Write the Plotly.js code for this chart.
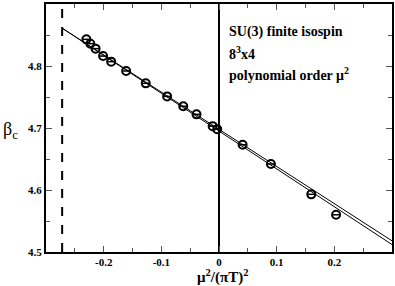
<!DOCTYPE html>
<html><head><meta charset="utf-8">
<script src="https://cdn.plot.ly/plotly-3.0.1.min.js"></script>
<style>html,body{margin:0;padding:0;background:#fff}#chart{width:395px;height:286px}</style>
</head><body><div id="chart"></div>
<script>
// data
const muX = [-0.230,-0.223,-0.214,-0.201,-0.187,-0.161,-0.127,-0.090,-0.062,-0.039,-0.011,-0.003,0.041,0.090,0.160,0.203];
const betaC = [4.843,4.836,4.828,4.816,4.807,4.792,4.772,4.751,4.735,4.722,4.703,4.698,4.673,4.642,4.593,4.560];
const fitX = [-0.272, 0.30];
const fitA = [4.861, 4.518];
const fitB = [4.861, 4.512];
const dashX = [-0.272, -0.272];
const dashY = [4.5, 4.9];
const xTicks = [-0.2,-0.1,0,0.1,0.2];
const yTicks = [4.5,4.6,4.7,4.8,4.9];
const labels = ["SU(3) finite isospin", "8<sup>3</sup>x4", "polynomial order \u03bc<sup>2</sup>"];
const xTitle = "\u03bc<sup>2</sup>/(\u03c0T)<sup>2</sup>";
const yTitle = "\u03b2<sub>c</sub>";

const serif = "Liberation Serif, Times New Roman, serif";
const traces = [
  {x: fitX, y: fitA, mode:'lines', line:{color:'#000', width:1}, hoverinfo:'skip'},
  {x: fitX, y: fitB, mode:'lines', line:{color:'#000', width:1}, hoverinfo:'skip'},
  {x: dashX, y: dashY, xaxis:'x2', yaxis:'y2', mode:'lines', line:{color:'#000', width:2, dash:'dash'}, hoverinfo:'skip'},
  {x: muX, y: betaC, mode:'markers', marker:{symbol:'circle-open', size:8, color:'#000', line:{width:2, color:'#000'}}},
  {x: muX, y: betaC, mode:'markers', marker:{symbol:'line-ew-open', size:6, color:'#000', line:{width:1.5, color:'#000'}}}
];
const axisCommon = {
  showgrid:false, showline:true, linecolor:'#000', linewidth:2, mirror:true,
  ticks:'inside', ticklen:6, tickwidth:1, tickcolor:'#555',
  minor:{ticks:'inside', ticklen:4, tickwidth:1, tickcolor:'#555'},
  tickfont:{family:serif, size:11, color:'#000'}
};
const b = s => '<b>' + s + '</b>';
const layout = {
  width:395, height:286,
  margin:{l:46, r:3, t:4, b:34, pad:0},
  paper_bgcolor:'#fff', plot_bgcolor:'#fff',
  showlegend:false,
  xaxis: Object.assign({}, axisCommon, {
    range:[-0.3,0.3], tickvals:xTicks, ticktext:xTicks.map(v=>b(v===0?'0':v.toFixed(1))),
    minor:Object.assign({}, axisCommon.minor, {dtick:0.05, tick0:0}),
    zeroline:true, zerolinecolor:'#000', zerolinewidth:2, ticklabelstandoff:-1
  }),
  yaxis: Object.assign({}, axisCommon, {
    range:[4.5,4.9], tickvals:yTicks, ticktext:yTicks.map(v=>b(v.toFixed(1))),
    minor:Object.assign({}, axisCommon.minor, {dtick:0.05, tick0:4.5}),
    zeroline:false
  }),
  xaxis2: Object.assign({}, axisCommon, {
    overlaying:'x', side:'top', range:[-0.3,0.3], tickvals:xTicks, showticklabels:false,
    minor:Object.assign({}, axisCommon.minor, {dtick:0.05, tick0:0}), zeroline:false
  }),
  yaxis2: Object.assign({}, axisCommon, {
    overlaying:'y', side:'right', range:[4.5,4.9], tickvals:yTicks, showticklabels:false,
    minor:Object.assign({}, axisCommon.minor, {dtick:0.05, tick0:4.5}), zeroline:false
  }),
  annotations: [
    {text:b(xTitle), xref:'paper', yref:'paper', x:0.51, y:-0.097, xanchor:'center', yanchor:'middle', showarrow:false, font:{family:serif, size:15, color:'#000'}},
    {text:yTitle, xref:'paper', yref:'paper', x:-0.075, y:0.49, xanchor:'right', yanchor:'middle', showarrow:false, font:{family:serif, size:18, color:'#000'}},
    {text:b(labels[0]), xref:'paper', yref:'paper', x:0.523, y:0.889, xanchor:'left', yanchor:'middle', showarrow:false, font:{family:serif, size:14, color:'#000'}},
    {text:b(labels[1]), xref:'paper', yref:'paper', x:0.523, y:0.804, xanchor:'left', yanchor:'middle', showarrow:false, font:{family:serif, size:14, color:'#000'}},
    {text:b(labels[2]), xref:'paper', yref:'paper', x:0.523, y:0.719, xanchor:'left', yanchor:'middle', showarrow:false, font:{family:serif, size:14, color:'#000'}}
  ]
};
Plotly.newPlot('chart', traces, layout, {displayModeBar:false, staticPlot:true});
</script></body></html>
